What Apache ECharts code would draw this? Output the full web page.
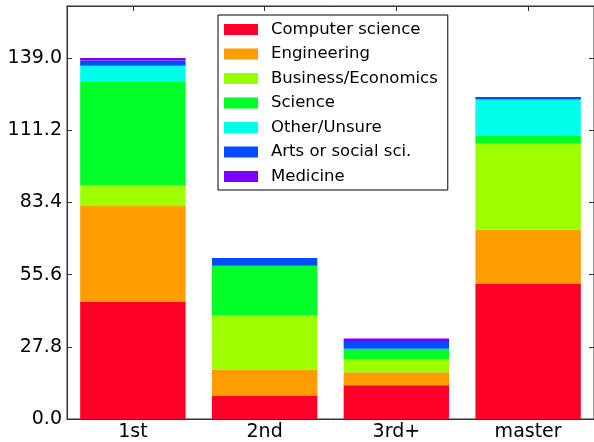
<!DOCTYPE html>
<html>
<head>
<meta charset="utf-8">
<script src="https://cdn.jsdelivr.net/npm/echarts@6/dist/echarts.min.js"></script>
<style>
  html, body { margin: 0; padding: 0; background: #fff; }
  #main { width: 594px; height: 442px; }
</style>
</head>
<body>
<div id="main"></div>
<script>
// years of study
var categories = ['1st', '2nd', '3rd+', 'master'];
var fields = ['Computer science', 'Engineering', 'Business/Economics', 'Science', 'Other/Unsure', 'Arts or social sci.', 'Medicine'];

// counts per field, one value per category
var computerScience = [45, 9, 13, 52];
var engineering     = [37, 10, 5, 21];
var business        = [8, 21, 5, 33];
var science         = [40, 19, 4, 3];
var other           = [6, 0, 0, 14];
var arts            = [2, 3, 3, 1];
var medicine        = [1, 0, 1, 0];

var yTicks = [0, 27.8, 55.6, 83.4, 111.2, 139.0];

var colors = ['#ff0029', '#ff9c00', '#9eff00', '#00ff27', '#00ffeb', '#004dff', '#7900ff'];
var values = [computerScience, engineering, business, science, other, arts, medicine];

var chart = echarts.init(document.getElementById('main'));

var series = fields.map(function (name, i) {
    return {
        name: name,
        type: 'bar',
        stack: 'total',
        barWidth: '80%',
        itemStyle: { color: colors[i] },
        data: values[i]
    };
});

function spine() {
    return { show: true, onZero: false, lineStyle: { color: '#333', width: 1 } };
}
function ticks(extra) {
    var t = { show: true, inside: true, length: 5, lineStyle: { color: '#333' } };
    if (extra) t.alignWithLabel = true;
    return t;
}

var option = {
    animation: false,
    textStyle: { fontFamily: 'DejaVu Sans' },
    grid: { left: 67, top: 6, width: 530, height: 413, show: true, borderColor: '#333', borderWidth: 1, backgroundColor: 'transparent' },
    legend: {
        data: fields,
        orient: 'vertical',
        left: 218,
        top: 15,
        icon: 'rect',
        itemWidth: 34,
        itemHeight: 11,
        itemGap: 7.5,
        padding: [6, 10, 5, 6],
        borderColor: '#000',
        borderWidth: 1,
        backgroundColor: '#fff',
        textStyle: { fontSize: 16.5, color: '#000', lineHeight: 17, padding: [0, 0, 0, 8] }
    },
    xAxis: [{
        type: 'category',
        gridIndex: 0,
        data: categories,
        position: 'bottom',
        axisLine: spine(),
        axisTick: ticks(true),
        axisLabel: { fontSize: 19, color: '#000', margin: 4 },
        splitLine: { show: false }
    }, {
        type: 'category',
        gridIndex: 0,
        data: categories,
        position: 'top',
        offset: 0,
        axisLine: spine(),
        axisTick: ticks(true),
        axisLabel: { show: false },
        splitLine: { show: false }
    }],
    yAxis: [{
        type: 'value',
        min: 0,
        max: 159,
        interval: yTicks[1],
        position: 'left',
        axisLine: spine(),
        axisTick: ticks(false),
        axisLabel: {
            fontSize: 19, color: '#000', margin: 5, showMaxLabel: false,
            formatter: function (v) { return v.toFixed(1); }
        },
        splitLine: { show: false }
    }, {
        type: 'value',
        min: 0,
        max: 159,
        interval: yTicks[1],
        position: 'right',
        axisLine: spine(),
        axisTick: ticks(false),
        axisLabel: { show: false },
        splitLine: { show: false }
    }],
    series: series
};

chart.setOption(option);
</script>
</body>
</html>
